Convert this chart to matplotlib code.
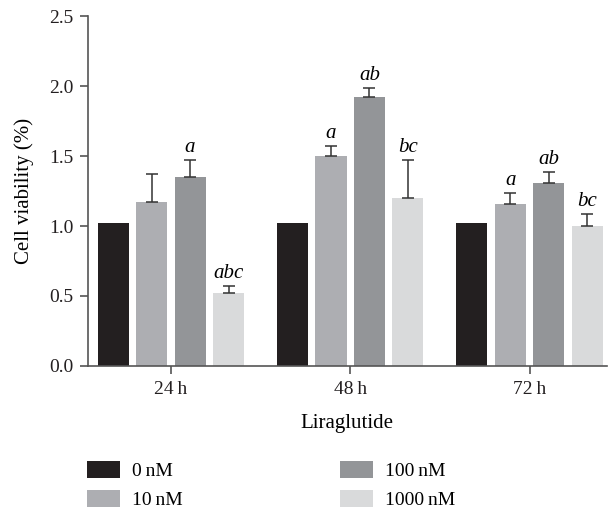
import numpy as np
import matplotlib.pyplot as plt

plt.rcParams['font.family'] = ['Liberation Serif', 'DejaVu Serif']
plt.rcParams['font.size'] = 14

times = ['24\u2009h', '48\u2009h', '72\u2009h']
doses = ['0\u2009nM', '10\u2009nM', '100\u2009nM', '1000\u2009nM']
colors = ['#231f20', '#adaeb2', '#939598', '#d9dadb']

# mean viability per dose (rows) and time point (columns)
means = [
    [1.02, 1.02, 1.02],
    [1.17, 1.50, 1.16],
    [1.35, 1.92, 1.31],
    [0.52, 1.20, 1.00],
]
errs = [
    [0.0, 0.0, 0.0],
    [0.20, 0.07, 0.075],
    [0.12, 0.065, 0.075],
    [0.05, 0.27, 0.085],
]
marks = [
    ['', '', ''],
    ['', 'a', 'a'],
    ['a', 'ab', 'ab'],
    ['abc', 'bc', 'bc'],
]

fig = plt.figure(figsize=(6.08, 5.11), dpi=100)
ax = fig.add_axes([0.1447, 0.2838, 0.853, 0.6848])

x = np.arange(len(times))
step = 0.2145
width = 0.173
for i in range(len(doses)):
    pos = x + (i - 1.5) * step
    m = np.array(means[i])
    e = np.array(errs[i])
    ax.bar(pos, m, width, color=colors[i], label=doses[i], zorder=2)
    if e.any():
        ax.errorbar(pos, m, yerr=[np.zeros_like(e), e], fmt='none',
                    ecolor='#333333', elinewidth=1.1, capsize=4.5,
                    capthick=1.1, zorder=3)
    for j in range(len(times)):
        if marks[i][j]:
            ax.annotate(marks[i][j], (pos[j], m[j] + e[j]),
                        xytext=(0, 2), textcoords='offset points',
                        ha='center', va='bottom', style='italic',
                        fontsize=15)

ax.set_xlim(-0.462, 2.429)
ax.set_ylim(0, 2.5)
ax.set_yticks([0, 0.5, 1.0, 1.5, 2.0, 2.5])
ax.set_yticklabels(['0.0', '0.5', '1.0', '1.5', '2.0', '2.5'])
ax.set_xticks(x)
ax.set_xticklabels(times)
ax.set_xlabel('Liraglutide', labelpad=12, fontsize=15)
ax.set_ylabel('Cell viability (%)', labelpad=11, fontsize=15)
for s in ['top', 'right']:
    ax.spines[s].set_visible(False)
for s in ['left', 'bottom']:
    ax.spines[s].set_color('#555555')
    ax.spines[s].set_linewidth(1.2)
ax.tick_params(colors='#555555', labelcolor='#231f20', width=1.2,
               length=5.5, pad=5, labelsize=14)

handles, labels = ax.get_legend_handles_labels()
fig.legend(handles, labels, ncol=2, loc='upper left',
           bbox_to_anchor=(0.143, 0.098), frameon=False,
           borderpad=0, borderaxespad=0, handlelength=1.7,
           handleheight=0.98, handletextpad=0.62, columnspacing=8.1,
           labelspacing=0.5, fontsize=14)

fig.savefig('out.png', dpi=100)
